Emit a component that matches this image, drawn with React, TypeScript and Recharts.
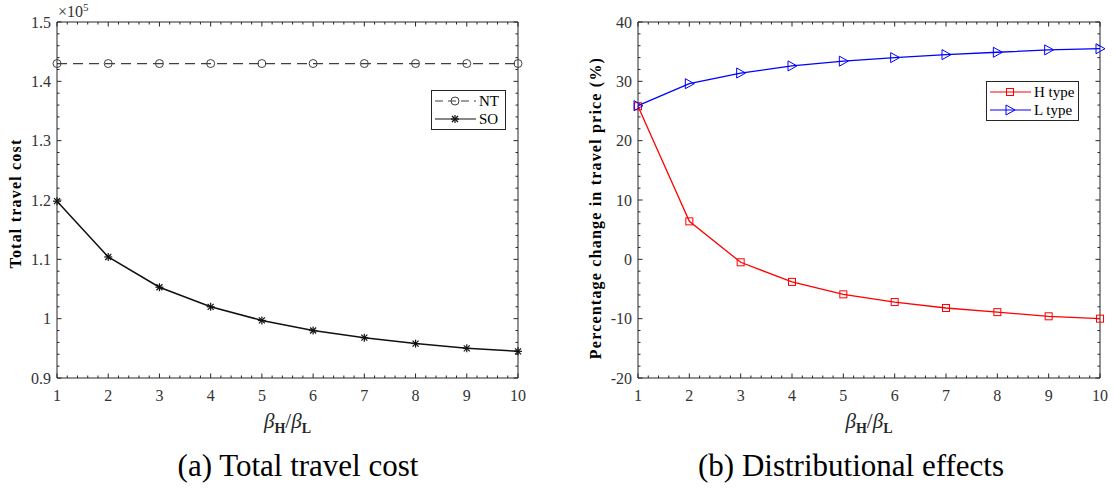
import React from "react";
import { LineChart, Line, XAxis, YAxis, Legend, Label, ReferenceLine } from "recharts";

// beta_H / beta_L ratio on the x axis
const betaRatio = [1, 2, 3, 4, 5, 6, 7, 8, 9, 10];

// (a) total travel cost
const ntCost = [143000, 143000, 143000, 143000, 143000, 143000, 143000, 143000, 143000, 143000];
const soCost = [119800, 110400, 105300, 102000, 99700, 98000, 96800, 95800, 95000, 94500];

// (b) percentage change in travel price
const hTypeChange = [25.8, 6.4, -0.5, -3.8, -5.9, -7.2, -8.2, -8.9, -9.6, -10.0];
const lTypeChange = [25.9, 29.6, 31.4, 32.6, 33.4, 34.0, 34.5, 34.9, 35.3, 35.5];

const xTicks = [1, 2, 3, 4, 5, 6, 7, 8, 9, 10];
const costTicks = [90000, 100000, 110000, 120000, 130000, 140000, 150000];
const costTickLabels = ["0.9", "1", "1.1", "1.2", "1.3", "1.4", "1.5"];
const pctTicks = [-20, -10, 0, 10, 20, 30, 40];

// 4 minor ticks between each pair of major ticks (MATLAB style)
const minorOf = (ticks: number[]) => {
  const out: number[] = [];
  for (let i = 0; i < ticks.length - 1; i++) {
    const step = (ticks[i + 1] - ticks[i]) / 5;
    for (let k = 1; k < 5; k++) out.push(ticks[i] + step * k);
  }
  return out;
};

const costData = betaRatio.map((x, i) => ({ x, nt: ntCost[i], so: soCost[i] }));
const pctData = betaRatio.map((x, i) => ({ x, h: hTypeChange[i], l: lTypeChange[i] }));

const FONT = "'Liberation Serif', 'Times New Roman', Times, serif";
const AXIS = "#262626";
const tickStyle = { fill: "#333", fontSize: 16, fontFamily: FONT };

const W = 557;
const H = 440;
const PLOT_W = 461;
const PLOT_H = 356;

// markers
const Ring = ({ cx, cy, color }: any) => (
  <circle cx={cx} cy={cy} r={4} fill="none" stroke={color} strokeWidth={1} />
);
const Star = ({ cx, cy, color }: any) => (
  <g stroke={color} strokeWidth={1.2}>
    <line x1={cx - 4} y1={cy} x2={cx + 4} y2={cy} />
    <line x1={cx} y1={cy - 4} x2={cx} y2={cy + 4} />
    <line x1={cx - 3} y1={cy - 3} x2={cx + 3} y2={cy + 3} />
    <line x1={cx - 3} y1={cy + 3} x2={cx + 3} y2={cy - 3} />
  </g>
);
const Square = ({ cx, cy, color }: any) => (
  <rect x={cx - 3.5} y={cy - 3.5} width={7} height={7} fill="none" stroke={color} strokeWidth={1} />
);
const Tri = ({ cx, cy, color }: any) => (
  <polygon points={`${cx - 4},${cy - 5} ${cx + 5},${cy} ${cx - 4},${cy + 5}`} fill="none" stroke={color} strokeWidth={1} />
);

const dotOf = (M: any, color: string) => (p: any) => <M key={p.index} cx={p.cx} cy={p.cy} color={color} />;

const LegendBox = ({ items, width }: any) => (
  <div style={{ width, border: `1px solid ${AXIS}`, background: "#fff", fontFamily: FONT, fontSize: 15, color: "#000", padding: "1px 0" }}>
    {items.map((it: any) => {
      const M = it.marker;
      return (
        <div key={it.name} style={{ display: "flex", alignItems: "center", height: 18 }}>
          <svg width={46} height={18} style={{ flex: "none" }}>
            <line x1={3} y1={9} x2={44} y2={9} stroke={it.color} strokeWidth={1.2} strokeDasharray={it.dash} />
            <M cx={23} cy={9} color={it.color} />
          </svg>
          <span style={{ marginLeft: 1 }}>{it.name}</span>
        </div>
      );
    })}
  </div>
);

const BetaLabel = ({ viewBox }: any) => {
  const { x, y, width } = viewBox;
  return (
    <text x={x + width / 2} y={y + 50} textAnchor="middle" fontFamily={FONT} fill={AXIS} fontSize={21}>
      <tspan fontStyle="italic">β</tspan>
      <tspan fontSize={14} fontWeight="bold" dy={5}>H</tspan>
      <tspan dy={-5}>/</tspan>
      <tspan fontStyle="italic">β</tspan>
      <tspan fontSize={14} fontWeight="bold" dy={5}>L</tspan>
    </text>
  );
};

const YTitle = (text: string, dx: number, dy: number, exponent?: boolean) => ({ viewBox }: any) => {
  const { x, y, height } = viewBox;
  const cx = x + dx;
  const cy = y + height / 2 + dy;
  return (
    <g>
      <text
        x={cx}
        y={cy}
        transform={`rotate(-90 ${cx} ${cy})`}
        textAnchor="middle"
        dominantBaseline="central"
        fontFamily={FONT}
        fontWeight="bold"
        fontSize={16}
        fill="#000"
        style={{ letterSpacing: 1.2 }}
      >
        {text}
      </text>
      {exponent && (
        <text x={x + 41} y={y - 5} fontFamily={FONT} fontSize={16} fill="#333">
          ×10<tspan fontSize={11} dy={-6}>5</tspan>
        </text>
      )}
    </g>
  );
};

// plot box with inward major/minor ticks on all four sides (MATLAB look)
const boxTicks = (yTicks: number[]) => {
  const x0 = xTicks[0];
  const x1 = xTicks[xTicks.length - 1];
  const y0 = yTicks[0];
  const y1 = yTicks[yTicks.length - 1];
  const perPxX = (x1 - x0) / PLOT_W;
  const perPxY = (y1 - y0) / PLOT_H;
  const out: React.ReactNode[] = [];
  const seg = (key: string, a: any, b: any) =>
    out.push(
      <ReferenceLine key={key} xAxisId="main" yAxisId="main" segment={[a, b]} stroke={AXIS} strokeWidth={1} ifOverflow="visible" />
    );
  const addX = (list: number[], len: number, tag: string) =>
    list.forEach((t) => {
      seg(`${tag}b${t}`, { x: t, y: y0 }, { x: t, y: y0 + len * perPxY });
      seg(`${tag}t${t}`, { x: t, y: y1 }, { x: t, y: y1 - len * perPxY });
    });
  const addY = (list: number[], len: number, tag: string) =>
    list.forEach((v) => {
      seg(`${tag}l${v}`, { x: x0, y: v }, { x: x0 + len * perPxX, y: v });
      seg(`${tag}r${v}`, { x: x1, y: v }, { x: x1 - len * perPxX, y: v });
    });
  addX(xTicks, 4.5, "M");
  addX(minorOf(xTicks), 2.5, "m");
  addY(yTicks, 4.5, "M");
  addY(minorOf(yTicks), 2.5, "m");
  out.push(<ReferenceLine key="top" xAxisId="main" yAxisId="main" y={y1} stroke={AXIS} strokeWidth={1} />);
  out.push(<ReferenceLine key="right" xAxisId="main" yAxisId="main" x={x1} stroke={AXIS} strokeWidth={1} />);
  return out;
};

const costLegend = [
  { name: "NT", color: "#404040", dash: "8 5", marker: Ring },
  { name: "SO", color: "#111", dash: undefined, marker: Star },
];
const pctLegend = [
  { name: "H type", color: "#ff0000", dash: undefined, marker: Square },
  { name: "L type", color: "#0000ff", dash: undefined, marker: Tri },
];

const titleStyle: React.CSSProperties = {
  position: "absolute",
  top: 451,
  width: 400,
  textAlign: "center",
  fontFamily: FONT,
  fontSize: 31,
  lineHeight: "30px",
  color: "#000",
};

export default function App() {
  return (
    <div style={{ position: "absolute", left: 0, top: 0, width: 1114, height: 491, background: "#fff" }}>
      <div style={{ position: "absolute", left: 0, top: 0 }}>
        <LineChart width={W} height={H} data={costData} margin={{ top: 22, right: 39, bottom: 32, left: 17 }}>
          <XAxis xAxisId="main" dataKey="x" type="number" domain={[1, 10]} ticks={xTicks} interval={0}
            tickLine={false} tickSize={0} tickMargin={12} axisLine={{ stroke: AXIS }} tick={tickStyle} height={30}>
            <Label content={<BetaLabel />} />
          </XAxis>
          <YAxis yAxisId="main" type="number" domain={[90000, 150000]} ticks={costTicks} interval={0}
            tickFormatter={(v: number) => costTickLabels[costTicks.indexOf(v)]}
            tickLine={false} tickSize={0} tickMargin={6} axisLine={{ stroke: AXIS }} tick={tickStyle} width={40}>
            <Label content={YTitle("Total travel cost", -2, 3.5, true)} />
          </YAxis>
          {boxTicks(costTicks)}
          <Line xAxisId="main" yAxisId="main" dataKey="nt" name="NT" stroke="#404040" strokeWidth={1.2}
            strokeDasharray="10 6" dot={dotOf(Ring, "#404040")} isAnimationActive={false} />
          <Line xAxisId="main" yAxisId="main" dataKey="so" name="SO" stroke="#111" strokeWidth={1.5}
            dot={dotOf(Star, "#111")} isAnimationActive={false} />
          <Legend layout="vertical" align="center" verticalAlign="middle"
            wrapperStyle={{ left: 431, top: 90, width: 75 }}
            content={() => <LegendBox items={costLegend} width={73} />} />
        </LineChart>
      </div>
      <div style={{ ...titleStyle, left: 98 }}>(a) Total travel cost</div>

      <div style={{ position: "absolute", left: W, top: 0 }}>
        <LineChart width={W} height={H} data={pctData} margin={{ top: 22, right: 14, bottom: 32, left: 41 }}>
          <XAxis xAxisId="main" dataKey="x" type="number" domain={[1, 10]} ticks={xTicks} interval={0}
            tickLine={false} tickSize={0} tickMargin={12} axisLine={{ stroke: AXIS }} tick={tickStyle} height={30}>
            <Label content={<BetaLabel />} />
          </XAxis>
          <YAxis yAxisId="main" type="number" domain={[-20, 40]} ticks={pctTicks} interval={0}
            tickLine={false} tickSize={0} tickMargin={6} axisLine={{ stroke: AXIS }} tick={tickStyle} width={40}>
            <Label content={YTitle("Percentage change in travel price (%)", -3, 8)} />
          </YAxis>
          {boxTicks(pctTicks)}
          <Line xAxisId="main" yAxisId="main" dataKey="h" name="H type" stroke="#ff0000" strokeWidth={1.3}
            dot={dotOf(Square, "#ff0000")} isAnimationActive={false} />
          <Line xAxisId="main" yAxisId="main" dataKey="l" name="L type" stroke="#0000ff" strokeWidth={1.3}
            dot={dotOf(Tri, "#0000ff")} isAnimationActive={false} />
          <Legend layout="vertical" align="center" verticalAlign="middle"
            wrapperStyle={{ left: 429, top: 81, width: 93 }}
            content={() => <LegendBox items={pctLegend} width={91} />} />
        </LineChart>
      </div>
      <div style={{ ...titleStyle, left: 651 }}>(b) Distributional effects</div>
    </div>
  );
}
